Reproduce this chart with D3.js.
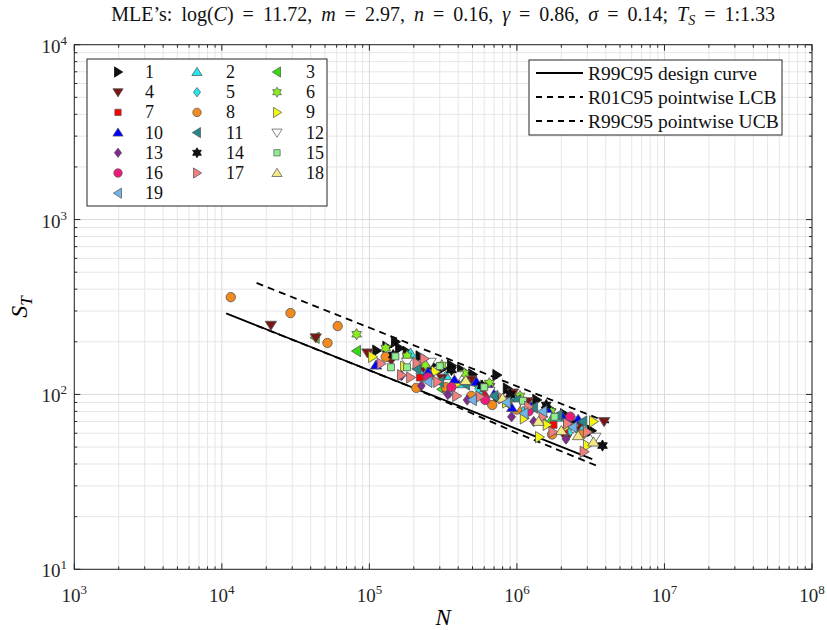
<!DOCTYPE html>
<html>
<head>
<meta charset="utf-8">
<script src="https://cdn.jsdelivr.net/npm/d3@7"></script>
<style>
  body { margin: 0; background: #fff; }
  svg { display: block; font-family: "Liberation Serif", "Times New Roman", serif; }
</style>
</head>
<body>
<svg id="chart" width="827" height="630"></svg>
<script>
// ---- data: fatigue life N vs stress range S_T, 19 test series ----
const seriesLabels = ["1","2","3","4","5","6","7","8","9","10","11","12","13","14","15","16","17","18","19"];

const seriesN = [
  [1.12e5,1.31e5,1.5e5,1.6e5,1.8e5,2.2e5,2.65e5,3.1e5,3.6e5,4.2e5,5.0e5,7.3e5,7.4e5,8.6e5,1.03e6,1.36e6,1.7e6,2.1e6,2.7e6,3.2e6],
  [1.9e5,3.3e5,4.3e5,5.95e5,9.5e5,1.25e6,1.9e6,2.7e6],
  [4.3e4,8.2e4,1.35e5,3.1e5,5.5e5,8.7e5,1.6e6,2.4e6],
  [2.15e4,4.33e4,9.7e4,1.41e5,2.3e5,3.1e5,4.9e5,6.5e5,9.4e5,1.18e6,1.6e6,2.16e6,2.6e6,3.9e6],
  [2.2e5,3.5e5,5.5e5,1.1e6,2.3e6],
  [8.2e4,1.29e5,1.8e5,2.4e5,3.1e5,4.4e5,6.5e5,1.05e6,1.7e6],
  [2.2e5,3.3e5,6.2e5,1.77e6,2.1e6],
  [1.15e4,2.92e4,5.2e4,6.1e4,1.29e5,2.08e5,3.3e5,4.9e5,6.8e5,1.0e6,1.73e6,2.77e6],
  [1.05e5,1.73e5,2.8e5,4.0e5,6.0e5,8.5e5,1.12e6,1.42e6,1.6e6,2.2e6,3.0e6,3.3e6],
  [1.11e5,2.5e5,3.8e5,5.3e5,6.7e5,9.3e5,1.25e6,1.65e6,2.0e6,2.6e6],
  [2.1e5,3.0e5,4.5e5,7.0e5,1.0e6,1.3e6,1.9e6,2.8e6],
  [1.8e5,2.6e5,4.0e5,6.5e5,1.0e6,1.6e6,2.4e6,3.4e6],
  [1.65e5,2.25e5,3.4e5,4.6e5,9.2e5,1.3e6,2.15e6],
  [1.45e5,3.6e5,5.8e5,9.0e5,1.58e6,2.3e6,3.8e6],
  [1.4e5,1.5e5,1.8e5,3.0e5,6.0e5,1.1e6,1.8e6],
  [2.5e5,3.6e5,6.1e5,1.2e6,2.3e6],
  [1.2e5,1.65e5,1.9e5,2.1e5,2.35e5,2.9e5,3.9e5,5.6e5,8.0e5,1.2e6,1.5e6,1.75e6,2.2e6,2.85e6,3.0e6],
  [4.5e5,8.0e5,1.4e6,2.0e6,2.6e6,3.3e6],
  [2.5e5,5.0e5,8.5e5,1.12e6,1.5e6,2.4e6]
];

const seriesS = [
  [178,187,200,184,175,165,147,140,146,138,130,129,96,108,93,93,82,77,68,62],
  [172,128,115,106,96,84,74,64],
  [211,177,160,107,112,88,72,66],
  [249,211,173,157,140,124,121,110,102,91,80,56,66,70],
  [132,102,108,80,62],
  [221,184,166,148,147,132,116,98,80],
  [125,108,100,67,62],
  [360,292,197,246,164,109,110,98,87,82,59,59],
  [164,144,135,116,112,90,73,57,67,66,51,70],
  [147,134,122,118,106,84,85,79,76,72],
  [140,118,114,98,93,84,76,70],
  [153,153,128,104,86,75,64,57],
  [128,112,100,93,74.5,70,55.6],
  [168,138,112,100,87,72,51],
  [143,165,143,145,110,92,74.5],
  [125,110,93,80,74.5],
  [150,129,125,151,160,118,98,97,95,85,74.5,61,68,47,61],
  [120,95,70,62,58,53.4],
  [118,93,90,78,80,65]
];

// fitted design curve and pointwise confidence bounds
const designN = [1.07e4, 3.24e6];
const designS = [291, 42.7];
const lcbN = [1.72e4, 4.43e6];
const lcbS = [434, 67.7];
const ucbN = [1.72e4, 2.0e5, 1e6, 3.6e6];
const ucbS = [247.7, 108.8, 60.2, 38.6];

const lineLabels = ["R99C95 design curve", "R01C95 pointwise LCB", "R99C95 pointwise UCB"];
const xTickExps = [3, 4, 5, 6, 7, 8];
const yTickExps = [1, 2, 3, 4];

// ---- marker styles (MATLAB-like marker cycle) ----
const shapes = ["right","up","left","down","diamond","hexagram","square","circle",
                "right","up","left","down","diamond","hexagram","square","circle",
                "right","up","left"];
const fills = ["#111111","#22e8ee","#33dd11","#7a1616","#22e8ee","#88ee22","#ff0000","#f28a1e",
               "#f5f514","#0000ff","#268888","#ffffff","#7e2a8e","#111111","#90ee90","#ee1a7a",
               "#f08080","#f3ea86","#70b4ea"];
const strokes = fills.map(c => (c === "#111111" ? "#000000" : "#555555"));

const svg = d3.select("#chart");
const plot = { left: 74.3, right: 812, top: 44.7, bottom: 569.3 };

const x = d3.scaleLog().domain([1e3, 1e8]).range([plot.left, plot.right]);
const y = d3.scaleLog().domain([10, 1e4]).range([plot.bottom, plot.top]);

// ---- grid ----
const minorX = [], minorY = [];
for (let e = 3; e < 8; e++) for (let k = 2; k <= 9; k++) minorX.push(k * Math.pow(10, e));
for (let e = 1; e < 4; e++) for (let k = 2; k <= 9; k++) minorY.push(k * Math.pow(10, e));
const majorX = xTickExps.map(e => Math.pow(10, e));
const majorY = yTickExps.map(e => Math.pow(10, e));

const grid = svg.append("g");
grid.selectAll(".gxm").data(minorX).join("line")
  .attr("x1", d => x(d)).attr("x2", d => x(d)).attr("y1", plot.top).attr("y2", plot.bottom)
  .attr("stroke", "#e6e6e6").attr("stroke-width", 1);
grid.selectAll(".gym").data(minorY).join("line")
  .attr("y1", d => y(d)).attr("y2", d => y(d)).attr("x1", plot.left).attr("x2", plot.right)
  .attr("stroke", "#e6e6e6").attr("stroke-width", 1);
grid.selectAll(".gxM").data(majorX).join("line")
  .attr("x1", d => x(d)).attr("x2", d => x(d)).attr("y1", plot.top).attr("y2", plot.bottom)
  .attr("stroke", "#dadada").attr("stroke-width", 1);
grid.selectAll(".gyM").data(majorY).join("line")
  .attr("y1", d => y(d)).attr("y2", d => y(d)).attr("x1", plot.left).attr("x2", plot.right)
  .attr("stroke", "#dadada").attr("stroke-width", 1);

// ---- curves ----
const line = d3.line().x(d => x(d[0])).y(d => y(d[1]));
const curves = svg.append("g").attr("fill", "none").attr("stroke", "#000");
curves.append("path").attr("d", line(d3.zip(ucbN, ucbS))).attr("stroke-width", 1.8).attr("stroke-dasharray", "7,5");
curves.append("path").attr("d", line(d3.zip(designN, designS))).attr("stroke-width", 1.8);
curves.append("path").attr("d", line(d3.zip(lcbN, lcbS))).attr("stroke-width", 1.8).attr("stroke-dasharray", "7,5");

// ---- marker geometry ----
function markerPath(shape) {
  const p = d3.path();
  const poly = pts => { p.moveTo(pts[0][0], pts[0][1]); pts.slice(1).forEach(q => p.lineTo(q[0], q[1])); p.closePath(); };
  const tri = [[0, -5.2], [5.7, 3.9], [-5.7, 3.9]];
  const rot = (pts, a) => pts.map(([u, v]) => [u * Math.cos(a) - v * Math.sin(a), u * Math.sin(a) + v * Math.cos(a)]);
  switch (shape) {
    case "up": poly(tri); break;
    case "down": poly(rot(tri, Math.PI)); break;
    case "right": poly(rot(tri, Math.PI / 2)); break;
    case "left": poly(rot(tri, -Math.PI / 2)); break;
    case "diamond": poly([[0, -5.2], [4, 0], [0, 5.2], [-4, 0]]); break;
    case "square": poly([[-3.5, -3.5], [3.5, -3.5], [3.5, 3.5], [-3.5, 3.5]]); break;
    case "circle": p.moveTo(4.7, 0); p.arc(0, 0, 4.7, 0, 2 * Math.PI); break;
    case "hexagram": {
      const R = 5.6, r = R / Math.sqrt(3), pts = [];
      for (let i = 0; i < 12; i++) {
        const a = -Math.PI / 2 + i * Math.PI / 6, rr = i % 2 === 0 ? R : r;
        pts.push([rr * Math.cos(a), rr * Math.sin(a)]);
      }
      poly(pts); break;
    }
  }
  return p.toString();
}

// ---- scatter points ----
const pts = svg.append("g");
seriesLabels.forEach((lab, i) => {
  const data = d3.zip(seriesN[i], seriesS[i]);
  pts.append("g").selectAll("path").data(data).join("path")
    .attr("d", markerPath(shapes[i]))
    .attr("transform", d => `translate(${x(d[0])},${y(d[1])})`)
    .attr("fill", fills[i]).attr("stroke", strokes[i]).attr("stroke-width", 0.8);
});

// ---- frame and ticks (box on, ticks inside on all sides) ----
const axisColor = "#262626";
const frame = svg.append("g").attr("stroke", axisColor).attr("stroke-width", 1);
frame.append("rect").attr("x", plot.left).attr("y", plot.top)
  .attr("width", plot.right - plot.left).attr("height", plot.bottom - plot.top).attr("fill", "none");
[[majorX, 6], [minorX, 3]].forEach(([vals, len]) => {
  vals.forEach(v => {
    frame.append("line").attr("x1", x(v)).attr("x2", x(v)).attr("y1", plot.bottom).attr("y2", plot.bottom - len);
    frame.append("line").attr("x1", x(v)).attr("x2", x(v)).attr("y1", plot.top).attr("y2", plot.top + len);
  });
});
[[majorY, 6], [minorY, 3]].forEach(([vals, len]) => {
  vals.forEach(v => {
    frame.append("line").attr("y1", y(v)).attr("y2", y(v)).attr("x1", plot.left).attr("x2", plot.left + len);
    frame.append("line").attr("y1", y(v)).attr("y2", y(v)).attr("x1", plot.right).attr("x2", plot.right - len);
  });
});

// ---- tick labels 10^k ----
function powLabel(t, e) {
  t.append("tspan").text("10");
  t.append("tspan").attr("dy", -8).attr("font-size", 13).text(e);
}
xTickExps.forEach(e => {
  const t = svg.append("text").attr("x", x(Math.pow(10, e))).attr("y", 602)
    .attr("text-anchor", "middle").attr("font-size", 19).attr("fill", axisColor);
  powLabel(t, e);
});
yTickExps.forEach(e => {
  const t = svg.append("text").attr("x", 67).attr("y", y(Math.pow(10, e)) + 8)
    .attr("text-anchor", "end").attr("font-size", 19).attr("fill", axisColor);
  powLabel(t, e);
});

// ---- axis titles ----
svg.append("text").attr("x", (plot.left + plot.right) / 2).attr("y", 625)
  .attr("text-anchor", "middle").attr("font-size", 23).attr("font-style", "italic").text("N");
const yl = svg.append("text").attr("transform", `translate(27,${(plot.top + plot.bottom) / 2}) rotate(-90)`)
  .attr("text-anchor", "middle").attr("font-size", 24).attr("font-style", "italic");
yl.append("tspan").text("S");
yl.append("tspan").attr("dy", 5).attr("font-size", 17).text("T");

// ---- title ----
const titleParts = [
  ["MLE\u2019s: log(", false], ["C", true], [") = 11.72, ", false],
  ["m", true], [" = 2.97, ", false], ["n", true], [" = 0.16, ", false],
  ["\u03b3", true], [" = 0.86, ", false], ["\u03c3", true], [" = 0.14; ", false],
  ["T", true], ["S", "sub"], [" = 1:1.33", false]
];
const title = svg.append("text").attr("x", (plot.left + plot.right) / 2).attr("y", 21)
  .attr("text-anchor", "middle").attr("font-size", 20).attr("word-spacing", 4).attr("fill", "#111");
let sub = false;
titleParts.forEach(([s, st]) => {
  const ts = title.append("tspan").text(s);
  if (st === true) ts.attr("font-style", "italic");
  if (st === "sub") { ts.attr("font-style", "italic").attr("font-size", 14).attr("dy", 4); sub = true; }
  else if (sub) { ts.attr("dy", -4); sub = false; }
});

// ---- marker legend ----
const leg1 = svg.append("g");
leg1.append("rect").attr("x", 87).attr("y", 59).attr("width", 240).attr("height", 147)
  .attr("fill", "#fff").attr("stroke", axisColor).attr("stroke-width", 1);
const colMarkX = [118, 197, 277], colTextX = [145, 226, 306];
seriesLabels.forEach((lab, i) => {
  const r = Math.floor(i / 3), c = i % 3, cy = 72 + r * 20.2;
  leg1.append("path").attr("d", markerPath(shapes[i]))
    .attr("transform", `translate(${colMarkX[c]},${cy}) scale(0.9)`)
    .attr("fill", fills[i]).attr("stroke", strokes[i]).attr("stroke-width", 0.8);
  leg1.append("text").attr("x", colTextX[c]).attr("y", cy + 6).attr("font-size", 18).attr("fill", "#111").text(lab);
});

// ---- line legend ----
const leg2 = svg.append("g");
leg2.append("rect").attr("x", 529).attr("y", 60).attr("width", 253).attr("height", 75)
  .attr("fill", "#fff").attr("stroke", axisColor).attr("stroke-width", 1);
lineLabels.forEach((lab, i) => {
  const cy = 73 + i * 24;
  leg2.append("line").attr("x1", 536).attr("x2", 583).attr("y1", cy).attr("y2", cy)
    .attr("stroke", "#000").attr("stroke-width", 1.8).attr("stroke-dasharray", i === 0 ? null : "6,5");
  leg2.append("text").attr("x", 588).attr("y", cy + 6.5).attr("font-size", 19.5).attr("fill", "#111").text(lab);
});
</script>
</body>
</html>
